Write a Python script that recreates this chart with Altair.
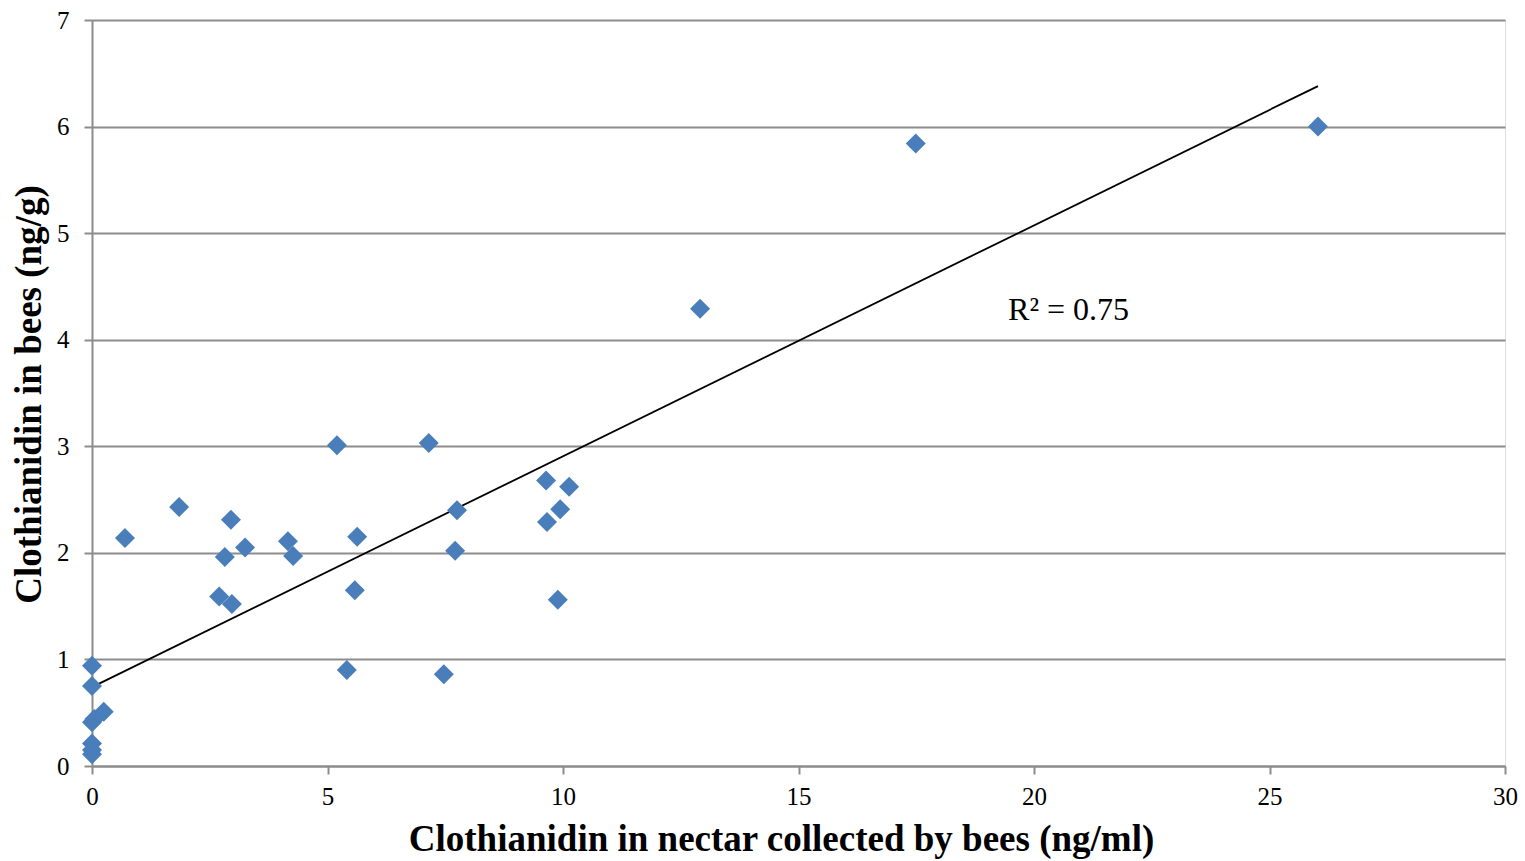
import altair as alt
import pandas as pd

# Clothianidin residues: nectar (ng/ml) vs. bees (ng/g)
nectar = [0.0, 0.0, 0.0, 0.05, 0.25, 0.0, 0.0, 0.0,
          0.70, 1.85, 2.70, 2.82, 2.95, 2.97, 3.25, 4.16, 4.27,
          5.20, 5.41, 5.58, 5.63, 7.15, 7.47, 7.71, 7.75,
          9.64, 9.66, 9.89, 9.94, 10.13, 12.91, 17.49, 26.03]
bees = [0.94, 0.75, 0.41, 0.44, 0.51, 0.21, 0.15, 0.11,
        2.14, 2.43, 1.59, 1.96, 2.31, 1.52, 2.05, 2.11, 1.97,
        3.01, 0.90, 1.65, 2.15, 3.03, 0.86, 2.02, 2.40,
        2.68, 2.29, 1.56, 2.41, 2.62, 4.29, 5.84, 6.00]

# linear trend line end points
trend_x = [0.0, 26.03]
trend_y = [0.74, 6.38]

r2_label = "R² = 0.75"
r2_pos = (19.45, 4.28)

x_ticks = [0, 5, 10, 15, 20, 25, 30]
y_ticks = [0, 1, 2, 3, 4, 5, 6, 7]

df = pd.DataFrame({"nectar": nectar, "bees": bees})
trend_df = pd.DataFrame({"nectar": trend_x, "bees": trend_y})
FONT = "Liberation Serif"
GREY = "#8c8c8c"

x_enc = alt.X(
    "nectar:Q",
    scale=alt.Scale(domain=[0, 30], nice=False, zero=False),
    axis=alt.Axis(
        title="Clothianidin in nectar collected by bees (ng/ml)",
        values=x_ticks, format="d", grid=False, tickSize=8, tickColor=GREY,
        domainColor=GREY, domainWidth=2, tickWidth=2, labelFlush=False,
        labelFont=FONT, labelFontSize=25, labelColor="#000",
        labelPadding=10, titleFont=FONT, titleFontSize=37,
        titleFontWeight="bold", titleColor="#000",
        titleX=689, titleY=84, titleBaseline="alphabetic", titleAlign="center",
    ),
)
y_enc = alt.Y(
    "bees:Q",
    scale=alt.Scale(domain=[0, 7], nice=False, zero=False),
    axis=alt.Axis(
        title="Clothianidin in bees (ng/g)",
        values=y_ticks, format="d", grid=True, gridColor=GREY, gridWidth=2,
        tickSize=8, tickColor=GREY, tickWidth=2,
        domainColor=GREY, domainWidth=2, labelFlush=False,
        labelFont=FONT, labelFontSize=25, labelColor="#000",
        labelPadding=15, titleFont=FONT, titleFontSize=37,
        titleFontWeight="bold", titleColor="#000",
        titleX=-52, titleY=374, titleAngle=-90,
        titleBaseline="alphabetic", titleAlign="center",
    ),
)

points = alt.Chart(df).mark_point(
    shape="diamond", filled=True, size=400, color="#4a7ebb", opacity=1
).encode(x=x_enc, y=y_enc)

trend = alt.Chart(trend_df).mark_line(
    color="#000", strokeWidth=1.8
).encode(x="nectar:Q", y="bees:Q")

label = alt.Chart(
    pd.DataFrame({"x": [r2_pos[0]], "y": [r2_pos[1]], "t": [r2_label]})
).mark_text(
    align="left", baseline="middle", font=FONT, fontSize=32, color="#000"
).encode(x="x:Q", y="y:Q", text="t:N")

chart = alt.layer(trend, points, label).properties(
    width=1413, height=746,
    autosize=alt.AutoSizeParams(type="none"),
    padding={"left": 92, "top": 20, "right": 20, "bottom": 95},
).configure_view(stroke=None).configure(background="white")

chart.save("out.html", embed_options={"renderer": "svg", "actions": False})
